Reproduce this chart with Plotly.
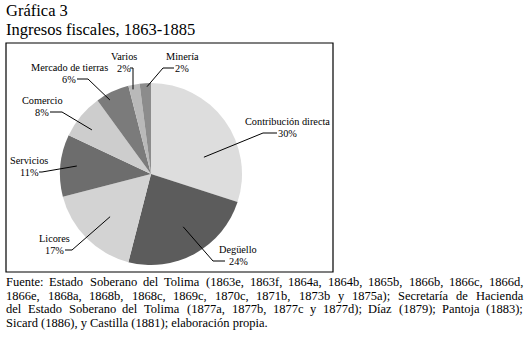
import math
import plotly.graph_objects as go

# Revenue shares, clockwise from twelve o'clock
categories = ["Contribución directa", "Degüello", "Licores", "Servicios",
              "Comercio", "Mercado de tierras", "Varios", "Minería"]
shares = [30, 24, 17, 11, 8, 6, 2, 2]

colors = ["#dddddd", "#5c5c5c", "#d3d3d3", "#6d6d6d",
          "#cdcdcd", "#7b7b7b", "#b9b9b9", "#8c8c8c"]

title_lines = ["Gráfica 3", "Ingresos fiscales, 1863-1885"]
source_lines = [
    "Fuente: Estado Soberano del Tolima (1863e, 1863f, 1864a, 1864b, 1865b, 1866b, 1866c, 1866d,",
    "1866e, 1868a, 1868b, 1868c, 1869c, 1870c, 1871b, 1873b y 1875a); Secretaría de Hacienda",
    "del Estado Soberano del Tolima (1877a, 1877b, 1877c y 1877d); Díaz (1879); Pantoja (1883);",
    "Sicard (1886), y Castilla (1881); elaboración propia.",
]

W, H = 529, 340
FONT = "Liberation Serif"
CX, CY, R = 151, 174, 91

# Label layout (pixels): text centre x, percent-line y, elbow x, tick end x,
# leader start as (fraction of radius, position across the slice 0..1)
label_layout = [
    (287, 133, 263, 277, 0.61, 0.67),
    (238, 261, 213, 225, 0.68, 0.47),
    (54, 250, 72, 65, 0.65, 0.48),
    (29, 172, 42, 39, 0.82, 0.52),
    (42, 112, 62, 50, 0.81, 0.40),
    (69, 79, 88, 77, 0.93, 0.32),
    (124, 68, 133, 130, 0.95, 0.33),
    (182, 68, 163, 174, 0.96, 0.64),
]

# Advance widths of the serif face (units per 1000 em), used to justify the source note
GLYPH_W = {" ": 250, "(": 333, ")": 333, ",": 250, ".": 250, ";": 278, ":": 278,
           "A": 722, "B": 667, "C": 667, "D": 722, "E": 611, "F": 556, "G": 722,
           "H": 722, "I": 333, "P": 556, "S": 556, "T": 611,
           "a": 444, "b": 500, "c": 444, "d": 500, "e": 444, "f": 333, "g": 500,
           "h": 500, "i": 278, "j": 278, "k": 500, "l": 278, "m": 778, "n": 500,
           "o": 500, "p": 500, "q": 500, "r": 333, "s": 389, "t": 278, "u": 500,
           "v": 500, "w": 722, "x": 500, "y": 500, "z": 444,
           "á": 444, "é": 444, "í": 278, "ó": 500, "ú": 500}


def text_width(s, size):
    return sum(GLYPH_W.get(ch, 500) for ch in s) / 1000 * size


fig = go.Figure()
fig.add_trace(go.Pie(
    labels=categories, values=shares, sort=False, direction="clockwise",
    rotation=0, marker=dict(colors=colors, line=dict(width=0)),
    textinfo="none", hoverinfo="skip", showlegend=False,
    domain=dict(x=[(CX - R) / W, (CX + R) / W],
                y=[1 - (CY + R) / H, 1 - (CY - R) / H]),
))

shapes = [dict(type="rect", xref="x", yref="y", x0=6, y0=43, x1=333, y1=272,
               line=dict(color="black", width=1.2), layer="below")]
annotations = []
total = sum(shares)
cum = 0
for name, v, (tx, py, ex, hx, fr, along) in zip(categories, shares, label_layout):
    ang = (cum + v * along) / total * 2 * math.pi
    cum += v
    ax = CX + fr * R * math.sin(ang)
    ay = CY - fr * R * math.cos(ang)
    shapes.append(dict(type="path", xref="x", yref="y",
                       path=f"M{ax:.1f},{ay:.1f} L{ex},{py} L{hx},{py}",
                       line=dict(color="black", width=1), layer="above"))
    annotations.append(dict(x=tx, y=py - 11.5, xref="x", yref="y", text=name,
                            showarrow=False, xanchor="center", yanchor="middle",
                            font=dict(family=FONT, size=10.3, color="black")))
    annotations.append(dict(x=tx, y=py, xref="x", yref="y", text=f"{v}%",
                            showarrow=False, xanchor="center", yanchor="middle",
                            font=dict(family=FONT, size=10.3, color="black")))

for i, t in enumerate(title_lines):
    annotations.append(dict(x=6, y=10.5 + 19 * i, xref="x", yref="y", text=t,
                            showarrow=False, xanchor="left", yanchor="middle",
                            borderpad=0, borderwidth=0,
                            font=dict(family=FONT, size=16.5, color="black")))

# Source note: justified lines, last line flush left
SRC_SIZE, SRC_X0, SRC_X1 = 12.5, 6, 523
for i, line in enumerate(source_lines):
    y = 282 + 13.6 * i
    words = line.split(" ")
    if i == len(source_lines) - 1:
        words = [line]
        gap = 0
    else:
        used = sum(text_width(w, SRC_SIZE) for w in words)
        gap = (SRC_X1 - SRC_X0 - used) / (len(words) - 1)
    x = SRC_X0
    for w in words:
        annotations.append(dict(x=x, y=y, xref="x", yref="y", text=w,
                                showarrow=False, xanchor="left", yanchor="middle",
                                borderpad=0, borderwidth=0,
                                font=dict(family=FONT, size=SRC_SIZE, color="black")))
        x += text_width(w, SRC_SIZE) + gap

fig.update_layout(
    width=W, height=H, margin=dict(l=0, r=0, t=0, b=0),
    paper_bgcolor="white", plot_bgcolor="white",
    xaxis=dict(range=[0, W], visible=False, fixedrange=True),
    yaxis=dict(range=[H, 0], visible=False, fixedrange=True),
    shapes=shapes, annotations=annotations,
)
fig.write_html("out.html", config={"displayModeBar": False})
